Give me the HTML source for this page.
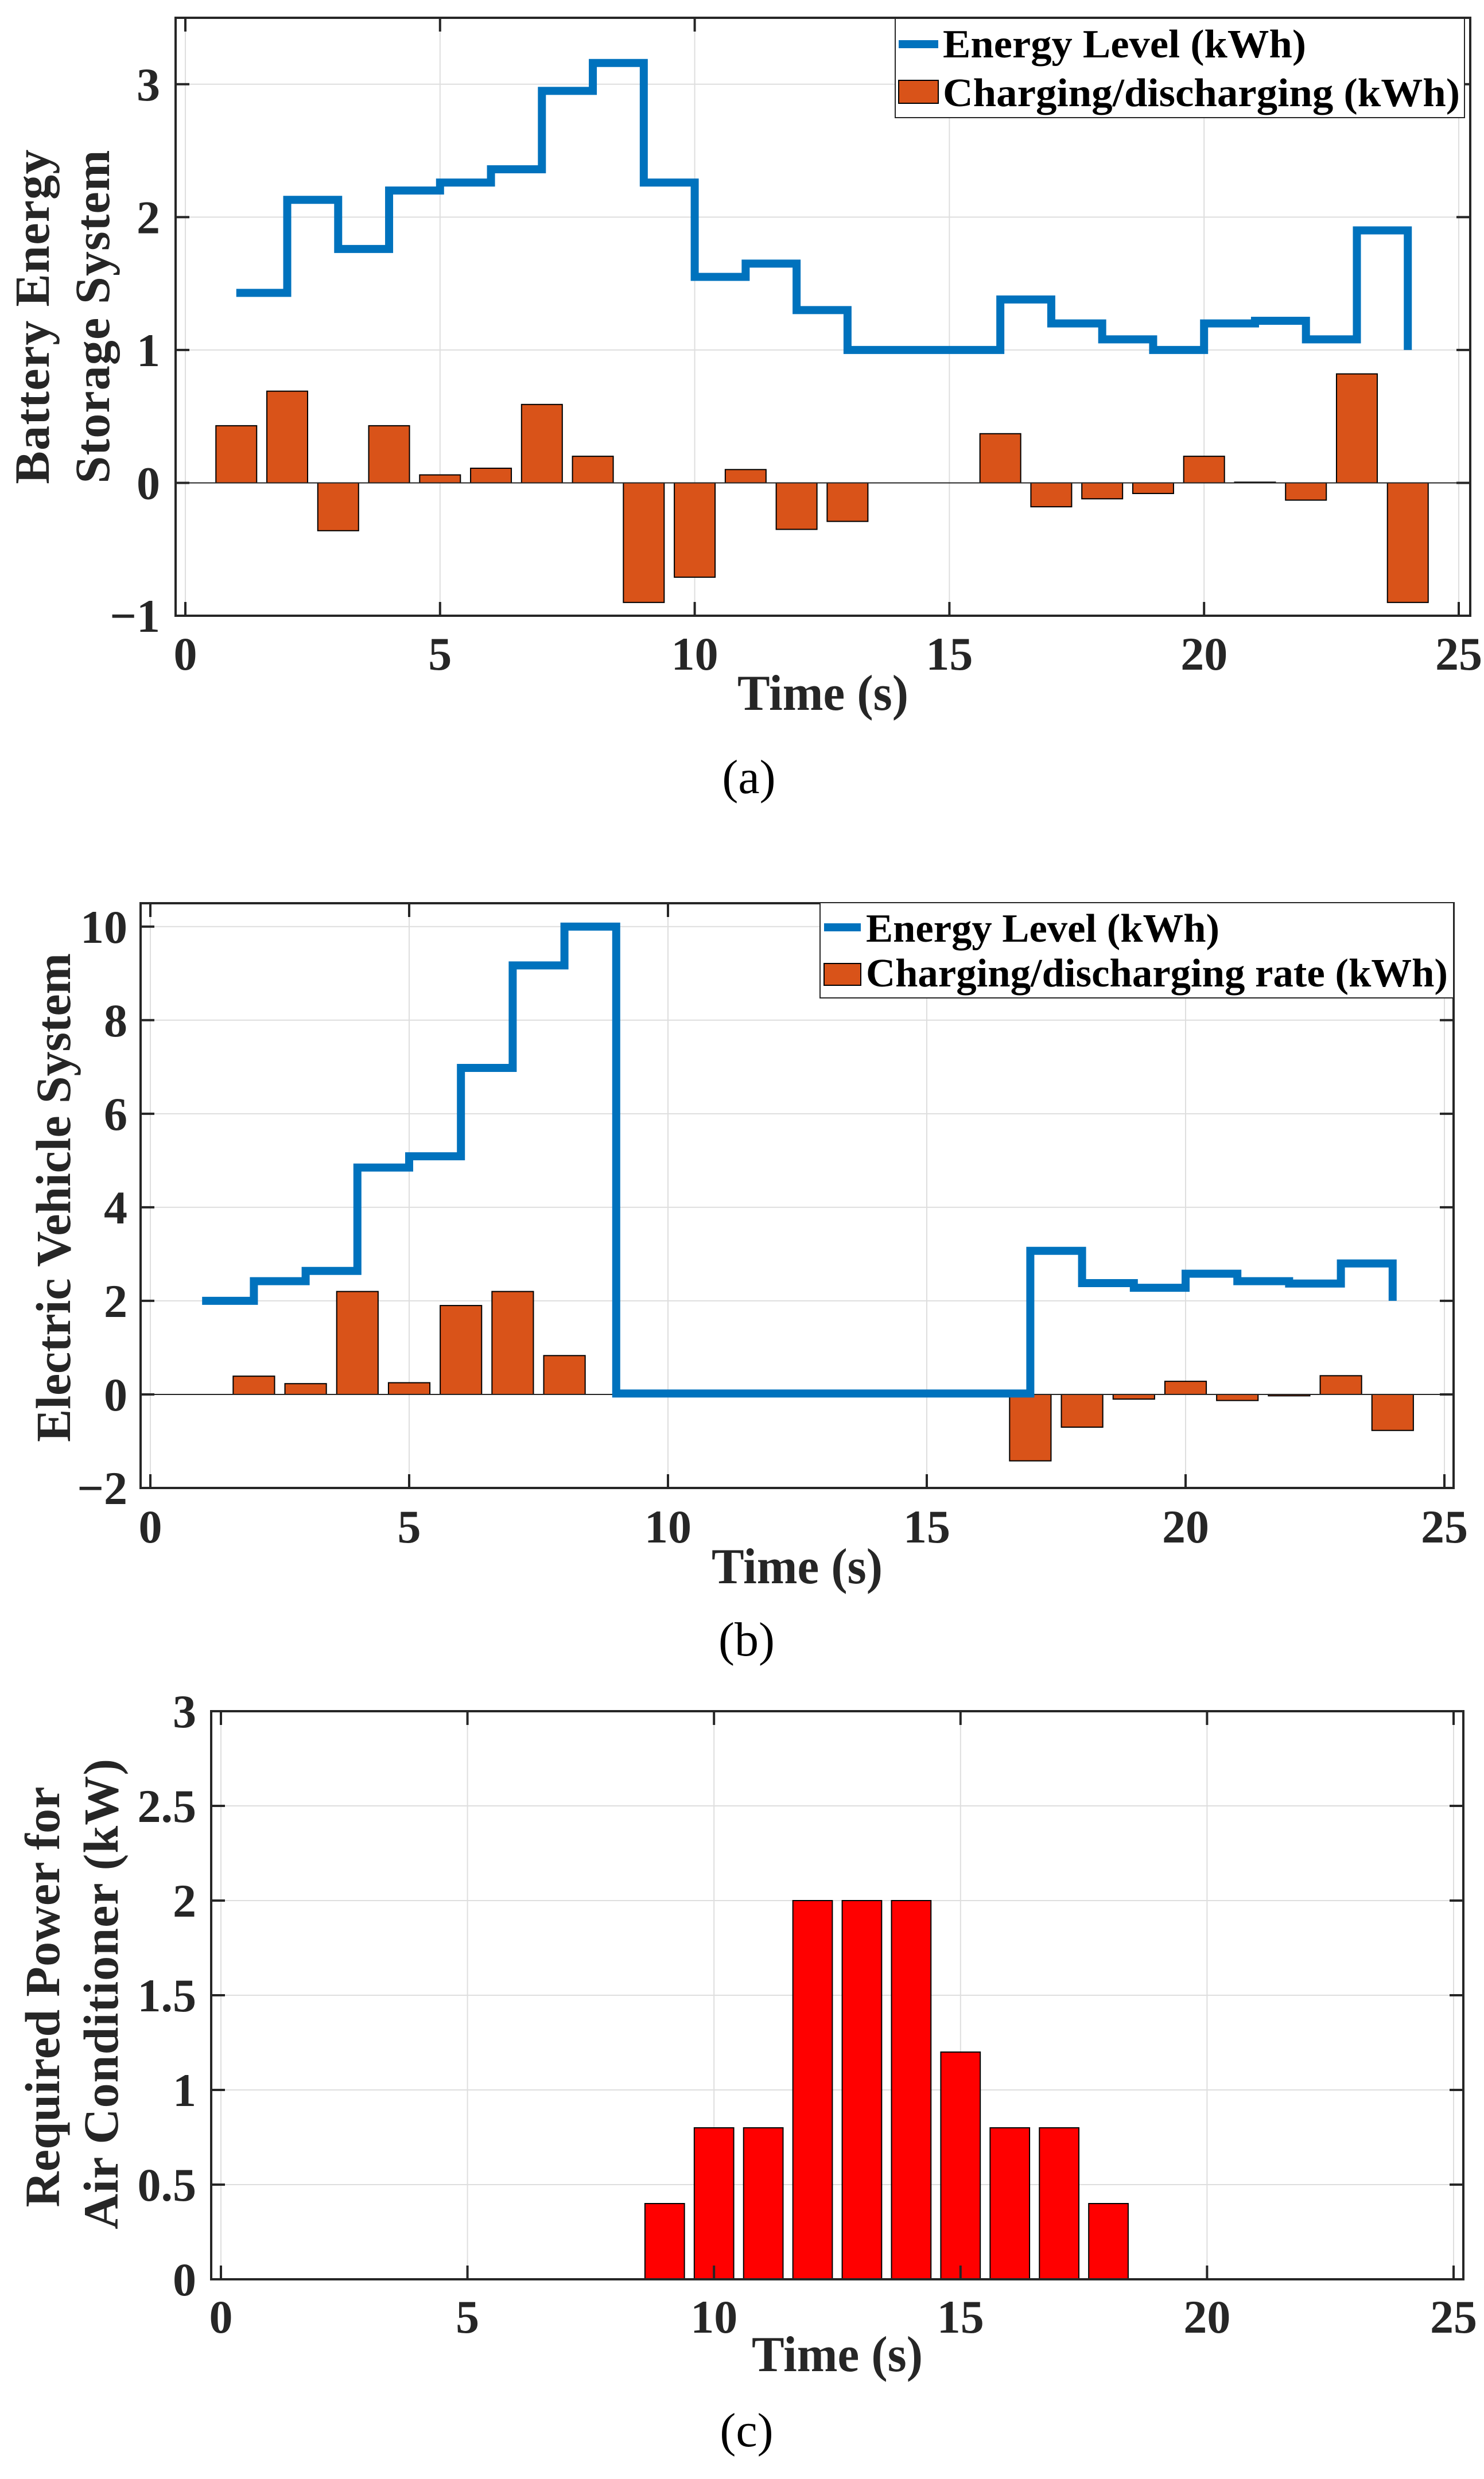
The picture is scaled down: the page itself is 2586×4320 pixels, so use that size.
<!DOCTYPE html>
<html><head><meta charset="utf-8">
<style>
html,body{margin:0;padding:0;background:#fff;}
svg{display:block;}
text{font-family:"Liberation Serif",serif;}
</style></head>
<body>
<svg id="fig" width="2586" height="4320" viewBox="0 0 2586 4320" xmlns="http://www.w3.org/2000/svg">
<rect x="0" y="0" width="2586" height="4320" fill="#fff"/>
</svg>
<script>
// ---- data: panel (a) battery energy storage system ----
const timesA = [1,2,3,4,5,6,7,8,9,10,11,12,13,14,15,16,17,18,19,20,21,22,23,24];
const energyA = [1.43,2.13,1.76,2.2,2.26,2.36,2.95,3.16,2.26,1.55,1.65,1.3,1.0,1.0,1.0,1.38,1.2,1.08,1.0,1.2,1.22,1.08,1.9,1.0];
const chargeA = [0.43,0.69,-0.36,0.43,0.06,0.11,0.59,0.2,-0.9,-0.71,0.1,-0.35,-0.29,0,0,0.37,-0.18,-0.12,-0.08,0.2,0.005,-0.13,0.82,-0.9];
const yTicksA = [-1,0,1,2,3];
const yTickLabelsA = ["\u22121","0","1","2","3"];
// ---- data: panel (b) electric vehicle system ----
const timesB = [1,2,3,4,5,6,7,8,9,10,11,12,13,14,15,16,17,18,19,20,21,22,23,24];
const energyB = [2.0,2.42,2.64,4.85,5.09,6.98,9.17,10.0,0.02,0.02,0.02,0.02,0.02,0.02,0.02,0.02,3.07,2.38,2.28,2.58,2.42,2.37,2.8,2.0];
const chargeB = [0,0.39,0.23,2.2,0.25,1.9,2.2,0.83,0,0,0,0,0,0,0,0,-1.42,-0.7,-0.1,0.28,-0.13,-0.03,0.4,-0.77];
const yTicksB = [-2,0,2,4,6,8,10];
const yTickLabelsB = ["\u22122","0","2","4","6","8","10"];
// ---- data: panel (c) air conditioner ----
const timesC = [9,10,11,12,13,14,15,16,17,18];
const powerC = [0.4,0.8,0.8,2,2,2,1.2,0.8,0.8,0.4];
const yTicksC = [0,0.5,1,1.5,2,2.5,3];
const yTickLabelsC = ["0","0.5","1","1.5","2","2.5","3"];
const xTicks = [0,5,10,15,20,25];
const xTickLabels = ["0","5","10","15","20","25"];

const NS = "http://www.w3.org/2000/svg";
const svg = document.getElementById('fig');
function mk(tag, attrs, parent){
  const e = document.createElementNS(NS, tag);
  for (const k in attrs) e.setAttribute(k, attrs[k]);
  (parent||svg).appendChild(e);
  return e;
}

function panel(c){
  const g = mk('g', {});
  
  
  const sx = v => c.x0 + (v - 0) * (c.x25 - c.x0) / 25;
  const sy = v => c.yb - (v - c.ymin) * (c.yb - c.yt) / (c.ymax - c.ymin);
  xTicks.forEach(t => {
    const l = mk('line', {x1:sx(t), x2:sx(t), y1:c.yt, y2:c.yb, stroke:'#dedede', 'stroke-width':2}, g);
    
    
  });
  c.yTicks.forEach(t => {
    const l = mk('line', {x1:c.xl, x2:c.xr, y1:sy(t), y2:sy(t), stroke:'#dedede', 'stroke-width':2}, g);
    
    
  });
  c.bars.forEach((v, i) => {
    const t = c.barX[i];
    if (v === 0) return;
    const y1 = sy(Math.max(v,0)), y2 = sy(Math.min(v,0));
    const r = mk('rect', {x:sx(t-0.4), y:y1, width:sx(t+0.4)-sx(t-0.4), height:Math.max(y2-y1,1), fill:c.barColor, stroke:'#000', 'stroke-width':2}, g);
    
    
  });
  if (c.baseline) {
    const b = mk('line', {x1:c.xl, x2:c.xr, y1:sy(0), y2:sy(0), stroke:'#262626', 'stroke-width':2}, g);
    
    
  }
  if (c.line) {
    let d = '';
    c.line.forEach((v, i) => {
      const t = c.lineX[i];
      if (i === 0) d += 'M' + sx(t) + ' ' + sy(v);
      else d += ' H' + sx(t) + ' V' + sy(v);
    });
    const p = mk('path', {d:d, fill:'none', stroke:'#0072BD', 'stroke-width':14, 'stroke-linejoin':'miter'}, g);
    
    
  }
  const bx = mk('rect', {x:c.xl, y:c.yt, width:c.xr-c.xl, height:c.yb-c.yt, fill:'none', stroke:'#262626', 'stroke-width':4}, g);
  
  
  xTicks.forEach((t, i) => {
    mk('line', {x1:sx(t), x2:sx(t), y1:c.yb, y2:c.yb-24, stroke:'#262626', 'stroke-width':4}, g);
    mk('line', {x1:sx(t), x2:sx(t), y1:c.yt, y2:c.yt+24, stroke:'#262626', 'stroke-width':4}, g);
    const tx = mk('text', {x:sx(t), y:c.xLabelY, 'font-size':82, 'font-weight':'bold', fill:'#262626', 'text-anchor':'middle'}, g);
    tx.textContent = xTickLabels[i];
    
    
  });
  c.yTicks.forEach((t, i) => {
    mk('line', {x1:c.xl, x2:c.xl+24, y1:sy(t), y2:sy(t), stroke:'#262626', 'stroke-width':4}, g);
    mk('line', {x1:c.xr, x2:c.xr-24, y1:sy(t), y2:sy(t), stroke:'#262626', 'stroke-width':4}, g);
    const tx = mk('text', {x:c.yLabelX, y:sy(t)+28, 'font-size':82, 'font-weight':'bold', fill:'#262626', 'text-anchor':'end'}, g);
    tx.textContent = c.yTickLabels[i];
    
    
  });
  const xt = mk('text', {x:c.xTitleX, y:c.xTitleY, 'font-size':88, 'font-weight':'bold', fill:'#262626', 'text-anchor':'middle', textLength:298, lengthAdjust:'spacingAndGlyphs'}, g);
  xt.textContent = 'Time (s)';
  
  
  c.yTitle.forEach(l => {
    const t = mk('text', {x:0, y:0, transform:'translate(' + l.bx + ',' + l.cy + ') rotate(-90)', 'font-size':86, 'font-weight':'bold', fill:'#262626', 'text-anchor':'middle', textLength:l.len, lengthAdjust:'spacing'}, g);
    t.textContent = l.text;
    
    
  });
  if (c.legend) {
    const L = c.legend;
    const lg = mk('g', {}, g);
    
    
    mk('rect', {x:L.x, y:L.y, width:L.w, height:L.h, fill:'#fff', stroke:'#262626', 'stroke-width':2}, lg);
    const s1 = mk('line', {x1:L.sx, x2:L.sx+L.sw, y1:L.r1, y2:L.r1, stroke:'#0072BD', 'stroke-width':14}, lg);
    
    
    const s2 = mk('rect', {x:L.sx, y:L.p1, width:L.sw, height:L.p2-L.p1, fill:'#D95319', stroke:'#000', 'stroke-width':2}, lg);
    
    
    const t1 = mk('text', {x:L.tx, y:L.b1, 'font-size':70, 'font-weight':'bold', fill:'#000', textLength:L.l1, lengthAdjust:'spacingAndGlyphs'}, lg);
    t1.textContent = 'Energy Level (kWh)';
    
    
    const t2 = mk('text', {x:L.tx, y:L.b2, 'font-size':70, 'font-weight':'bold', fill:'#000', textLength:L.l2, lengthAdjust:'spacingAndGlyphs'}, lg);
    t2.textContent = L.t2;
    
    
  }
  const cap = mk('text', {x:c.capX, y:c.capY, 'font-size':84, fill:'#000', 'text-anchor':'middle'}, g);
  cap.textContent = c.caption;
  
  
}

panel({name:'panel-a-bess', xl:306, xr:2562, yt:31, yb:1073, x0:323, x25:2542, ymin:-1, ymax:3.5,
  yTicks:yTicksA, yTickLabels:yTickLabelsA, bars:chargeA, barX:timesA, barColor:'#D95319', baseline:true,
  line:energyA, lineX:timesA, xLabelY:1167, yLabelX:279, xTitleX:1434, xTitleY:1237,
  yTitle:[{text:'Battery Energy', bx:85, cy:552, len:583},{text:'Storage System', bx:190, cy:552, len:581}],
  legend:{x:1560, y:32, w:992, h:173, sx:1566, sw:69, r1:77, p1:140, p2:180, tx:1643, b1:100, b2:185, l1:633, l2:901, t2:'Charging/discharging (kWh)'},
  caption:'(a)', capX:1305, capY:1382});

panel({name:'panel-b-ev', xl:245, xr:2533, yt:1574, yb:2593, x0:262, x25:2517, ymin:-2, ymax:10.5,
  yTicks:yTicksB, yTickLabels:yTickLabelsB, bars:chargeB, barX:timesB, barColor:'#D95319', baseline:true,
  line:energyB, lineX:timesB, xLabelY:2688, yLabelX:222, xTitleX:1389, xTitleY:2759,
  yTitle:[{text:'Electric Vehicle System', bx:122, cy:2087, len:852}],
  legend:{x:1429, y:1573, w:1104, h:166, sx:1436, sw:64, r1:1616, p1:1679, p2:1717, tx:1509, b1:1641, b2:1719, l1:616, l2:1014, t2:'Charging/discharging rate (kWh)'},
  caption:'(b)', capX:1301, capY:2885});

panel({name:'panel-c-ac', xl:368, xr:2550, yt:2982, yb:3972, x0:385, x25:2533, ymin:0, ymax:3,
  yTicks:yTicksC, yTickLabels:yTickLabelsC, bars:powerC, barX:timesC, barColor:'#FF0000', baseline:false,
  line:null, xLabelY:4065, yLabelX:342, xTitleX:1459, xTitleY:4132,
  yTitle:[{text:'Required Power for', bx:103, cy:3480, len:733},{text:'Air Conditioner (kW)', bx:205, cy:3475, len:820}],
  legend:null, caption:'(c)', capX:1301, capY:4263});
</script>
</body></html>
